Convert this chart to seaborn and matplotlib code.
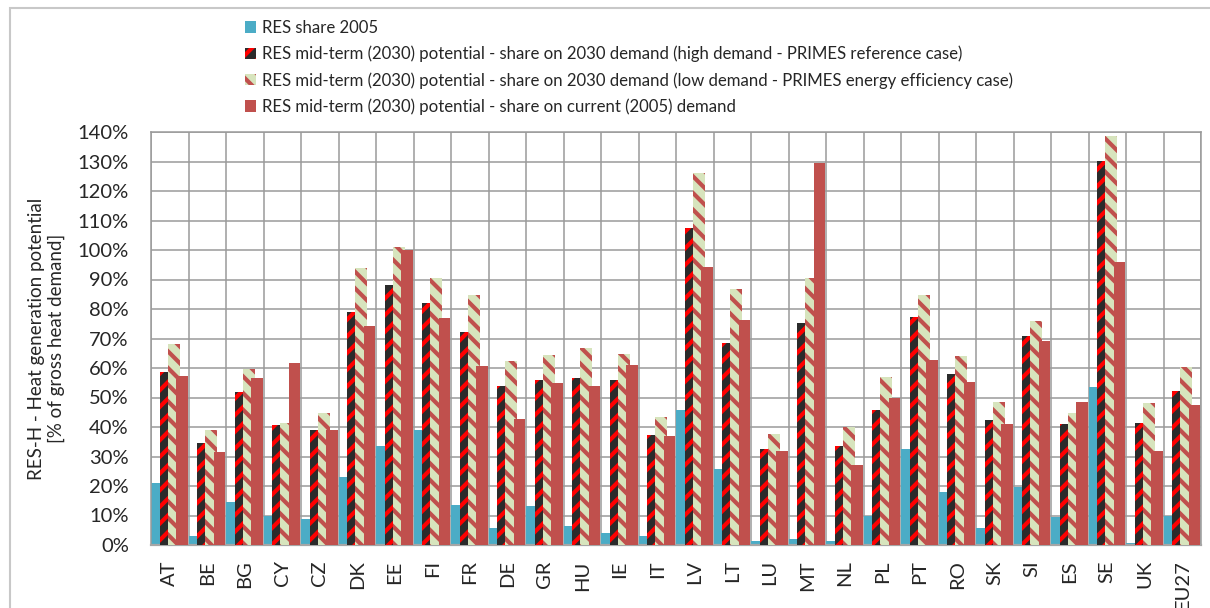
import numpy as np
import pandas as pd
import matplotlib
matplotlib.use("Agg")
import matplotlib.pyplot as plt
from matplotlib.patches import Patch, Rectangle
from matplotlib.ticker import FuncFormatter
import seaborn as sns

countries = ["AT", "BE", "BG", "CY", "CZ", "DK", "EE", "FI", "FR", "DE", "GR", "HU", "IE", "IT",
             "LV", "LT", "LU", "MT", "NL", "PL", "PT", "RO", "SK", "SI", "ES", "SE", "UK", "EU27"]

res_2005 = [21.0, 3.2, 14.6, 10.0, 8.8, 23.1, 33.7, 39.1, 13.7, 5.6, 13.1, 6.3, 4.0, 2.9,
            45.7, 25.7, 1.2, 1.9, 1.5, 10.0, 32.7, 17.9, 5.9, 19.5, 9.4, 53.7, 0.6, 9.8]
high_2030 = [58.8, 34.6, 51.7, 40.6, 39.1, 79.0, 88.3, 82.2, 72.1, 53.8, 56.0, 56.5, 55.8, 37.4,
             107.4, 68.6, 32.5, 75.4, 33.4, 45.8, 77.3, 57.9, 42.3, 70.8, 41.0, 130.1, 41.2, 52.3]
low_2030 = [68.2, 38.9, 59.7, 41.5, 44.9, 93.9, 101.0, 90.5, 84.9, 62.3, 64.3, 66.7, 64.6, 43.5,
            126.0, 86.9, 37.7, 90.5, 40.0, 57.1, 84.7, 64.1, 48.5, 75.8, 44.7, 138.6, 48.0, 60.3]
current_2005 = [57.3, 31.4, 56.5, 61.7, 39.1, 74.3, 100.0, 77.1, 60.7, 42.7, 55.0, 53.9, 60.9, 36.8,
                94.2, 76.2, 31.9, 129.5, 27.1, 49.8, 62.8, 55.2, 41.1, 69.0, 48.5, 96.0, 31.9, 47.3]

series_names = [
    "RES share 2005",
    "RES mid-term (2030) potential - share on 2030 demand (high demand - PRIMES reference case)",
    "RES mid-term (2030) potential - share on 2030 demand (low demand - PRIMES energy efficiency case)",
    "RES mid-term (2030) potential - share on current (2005) demand",
]
y_ticks = list(range(0, 141, 10))

face_colors = ["#4BACC6", "#2B2B2B", "#D7E4BD", "#C0504D"]
hatch_colors = [None, "#FF0000", "#C0504D", None]
hatches = [None, "//", "\\\\", None]

plt.rcParams["hatch.linewidth"] = 3.0
sns.set_style("white")
plt.rcParams["font.family"] = ["Lato", "DejaVu Sans"]

df = pd.DataFrame({
    "country": countries * 4,
    "value": res_2005 + high_2030 + low_2030 + current_2005,
    "series": sum([[s] * len(countries) for s in series_names], []),
})

fig = plt.figure(figsize=(12.10, 6.08), dpi=100)
ax = fig.add_axes([151 / 1210, 63 / 608, 1050 / 1210, 413 / 608])

sns.barplot(data=df, x="country", y="value", hue="series", hue_order=series_names,
            palette=face_colors, order=countries, errorbar=None, dodge=True,
            gap=0, width=0.9, legend=False, ax=ax, saturation=1)

offset, step, width = 0.008, 0.222, 0.31
for k, cont in enumerate(ax.containers):
    for i, bar in enumerate(cont.patches):
        bar.set_x(i - 0.5 + offset + k * step)
        bar.set_width(width)
        bar.set_zorder(2 + k)
        if hatches[k]:
            bar.set_hatch(hatches[k])
            bar.set_edgecolor(hatch_colors[k])
            bar.set_linewidth(0)
        else:
            bar.set_edgecolor("none")
            bar.set_linewidth(0)

ax.set_xlim(-0.5, len(countries) - 0.5)
ax.set_ylim(0, 140)
ax.set_yticks(y_ticks)
ax.yaxis.set_major_formatter(FuncFormatter(lambda v, p: f"{v:.0f}%"))
ax.set_xticks(range(len(countries)))
ax.set_xticklabels(countries, rotation=90)
ax.set_xticks(np.arange(-0.5, len(countries)), minor=True)
ax.tick_params(axis="both", which="both", length=0)
ax.tick_params(axis="y", labelsize=14.5, pad=16)
ax.tick_params(axis="x", labelsize=14.5, pad=11)
ax.set_axisbelow(True)
ax.grid(axis="y", which="major", color="#9A9A9A", lw=1.1)
ax.grid(axis="x", which="minor", color="#9A9A9A", lw=1.1)
for sp in ax.spines.values():
    sp.set_color("#9A9A9A")
    sp.set_linewidth(1.1)
ax.spines["bottom"].set_color("#A6A6A6")
ax.spines["bottom"].set_linewidth(1.6)
ax.set_xlabel("")
ax.set_ylabel("RES-H - Heat generation potential\n[% of gross heat demand]", fontsize=13.5,
              multialignment="center", linespacing=1.2)
ax.yaxis.set_label_coords(-0.082, 0.5)

handles = []
for k in range(4):
    if hatches[k]:
        handles.append(Patch(facecolor=face_colors[k], edgecolor=hatch_colors[k], hatch=hatches[k], linewidth=0))
    else:
        handles.append(Patch(facecolor=face_colors[k], edgecolor="none", linewidth=0))
fig.legend(handles, series_names, loc="upper left", bbox_to_anchor=(245 / 1210, 1 - 20 / 608),
           frameon=False, fontsize=12.1, handlelength=0.65, handleheight=0.65, handletextpad=0.35,
           labelspacing=0.58, borderaxespad=0, borderpad=0)

fig.patches.append(Rectangle((10 / 1210, -0.1), 1.2, 1 - 8 / 608 + 0.1, transform=fig.transFigure,
                             fill=False, edgecolor="#C8C8C8", lw=1.5, zorder=0))

fig.savefig("out.png", dpi=100)
